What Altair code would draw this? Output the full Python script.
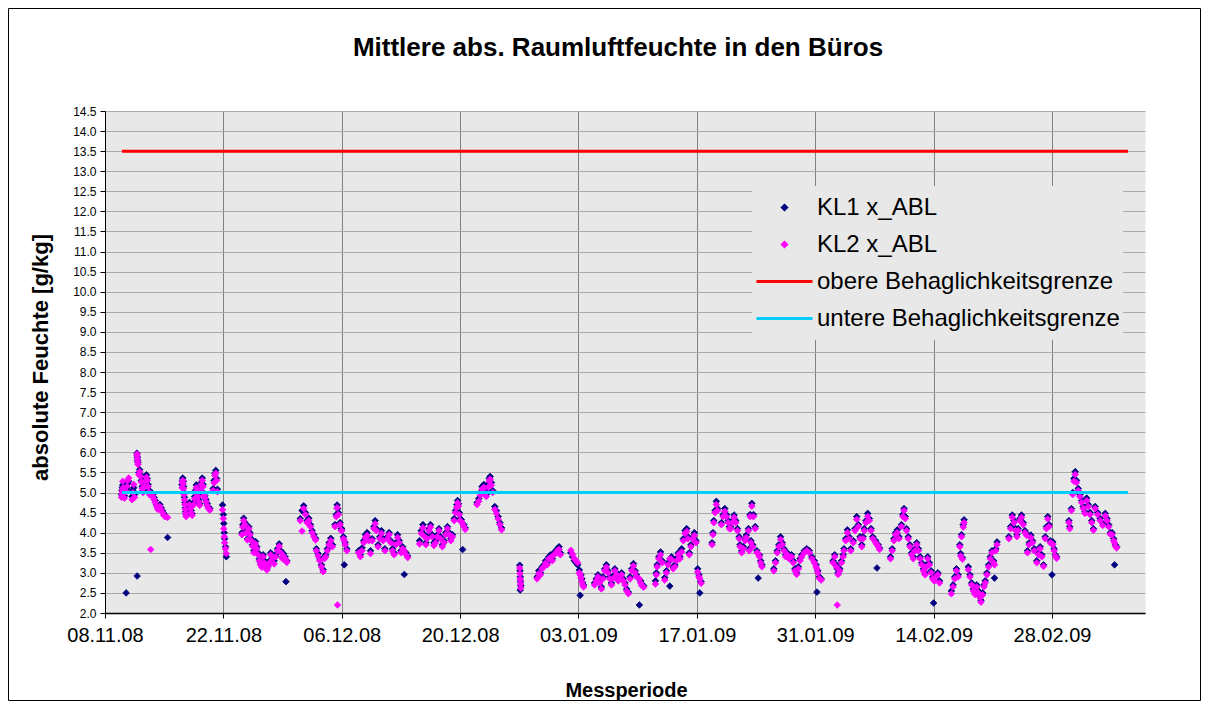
import altair as alt
import pandas as pd

chart_title = "Mittlere abs. Raumluftfeuchte in den Büros"
y_axis_title = "absolute Feuchte [g/kg]"
x_axis_title = "Messperiode"

series_names = ["KL1 x_ABL", "KL2 x_ABL", "obere Behaglichkeitsgrenze", "untere Behaglichkeitsgrenze"]
series_colors = ["#000080", "#FF00FF", "#FF0000", "#00CCFF"]

x_start = "2008-11-08"
x_end = "2009-03-11"
x_tick_dates = ["2008-11-08", "2008-11-22", "2008-12-06", "2008-12-20", "2009-01-03",
                "2009-01-17", "2009-01-31", "2009-02-14", "2009-02-28"]
y_ticks = [2.0, 2.5, 3.0, 3.5, 4.0, 4.5, 5.0, 5.5, 6.0, 6.5, 7.0, 7.5, 8.0, 8.5,
           9.0, 9.5, 10.0, 10.5, 11.0, 11.5, 12.0, 12.5, 13.0, 13.5, 14.0, 14.5]

limit_names = ["obere Behaglichkeitsgrenze", "untere Behaglichkeitsgrenze"]
limit_values = [13.5, 5.0]
limit_from = "2008-11-10"
limit_to = "2009-03-09"

# measurement times (days after 08.11.08), one inner list per measured stretch
t_day = [
    [1.95, 2.0, 2.05, 2.1, 2.15, 2.2, 2.3, 2.5],
    [2.6, 2.7, 2.8],
    [3.2, 3.3, 3.4, 3.5],
    [3.78, 3.8, 3.83, 3.86, 3.9],
    [4.0, 4.1, 4.2, 4.3, 4.4, 4.5],
    [4.7, 4.8, 4.9, 5.0, 5.1, 5.2, 5.3, 5.4],
    [5.5, 5.65, 5.8, 5.95, 6.1, 6.25],
    [6.5, 6.65, 6.8, 6.95, 7.1, 7.4],
    [9.1, 9.15, 9.2, 9.25, 9.3, 9.35, 9.4, 9.45, 9.5, 9.55, 9.6],
    [10.0, 10.1, 10.2, 10.3],
    [10.5, 10.6, 10.7, 10.8, 10.9, 11.0, 11.1, 11.2],
    [11.3, 11.4, 11.5, 11.6, 11.7],
    [11.8, 11.95, 12.1, 12.25, 12.4],
    [12.8, 12.9, 13.0, 13.1, 13.2, 13.3],
    [13.9, 14.0, 14.05, 14.1, 14.15, 14.25, 14.35],
    [16.2, 16.3, 16.4, 16.55, 16.7, 16.85],
    [17.0, 17.15, 17.3, 17.45, 17.6],
    [17.8, 17.95, 18.1, 18.25, 18.4, 18.55],
    [18.7, 18.85, 19.0, 19.15, 19.3, 19.45],
    [19.6, 19.8, 20.0, 20.2, 20.4, 20.6, 20.8, 21.0],
    [21.1, 21.3, 21.4, 21.5],
    [23.1, 23.3, 23.5, 23.7, 23.9],
    [24.1, 24.3, 24.5, 24.7, 24.9],
    [25.0, 25.2, 25.4, 25.6, 25.8, 25.95],
    [26.1, 26.3, 26.5, 26.7, 26.9],
    [27.2, 27.35, 27.45, 27.5, 27.6, 27.8, 27.95],
    [28.0, 28.2, 28.3, 28.4, 28.6],
    [30.0, 30.2, 30.4, 30.6, 30.8, 31.0, 31.2],
    [31.4, 31.6, 31.8, 31.95, 32.1],
    [32.3, 32.5, 32.7, 32.9, 33.1],
    [33.4, 33.6, 33.8, 34.0, 34.2, 34.4, 34.6, 34.8, 35.0],
    [35.2, 35.4, 35.6, 35.8],
    [37.2, 37.4, 37.6, 37.8, 37.95],
    [38.1, 38.3, 38.5, 38.7, 38.9],
    [39.1, 39.3, 39.5, 39.7, 39.9],
    [40.1, 40.3, 40.5, 40.7, 40.9, 41.1],
    [41.3, 41.45, 41.6, 41.7, 41.8, 41.9],
    [42.0, 42.15, 42.3, 42.45, 42.6],
    [44.0, 44.2, 44.4, 44.6, 44.8],
    [44.95, 45.1, 45.3, 45.45, 45.55, 45.7, 45.85],
    [46.1, 46.3, 46.5, 46.7, 46.9],
    [49.05, 49.08, 49.1, 49.12, 49.15, 49.18],
    [51.1, 51.3, 51.5, 51.7, 51.9, 52.1, 52.3, 52.5, 52.7, 52.9, 53.1, 53.3, 53.5, 53.7, 53.85],
    [55.1, 55.3, 55.5, 55.7, 55.9],
    [56.1, 56.2, 56.3, 56.4, 56.5, 56.6],
    [57.9, 58.1, 58.3, 58.5, 58.7],
    [58.9, 59.1, 59.3, 59.5, 59.7],
    [59.9, 60.1, 60.3, 60.5, 60.7],
    [60.9, 61.1, 61.3, 61.5, 61.7, 61.9],
    [62.1, 62.3, 62.5, 62.7, 62.85],
    [63.2, 63.35, 63.5, 63.7],
    [65.1, 65.2, 65.3, 65.5, 65.7, 65.9],
    [66.2, 66.4, 66.6, 66.8, 67.0, 67.2],
    [67.4, 67.6, 67.8, 68.0],
    [68.2, 68.4, 68.6, 68.8, 68.95],
    [69.1, 69.3, 69.5, 69.7, 69.9],
    [70.1, 70.25, 70.35, 70.5],
    [71.8, 71.9, 72.0, 72.15, 72.3, 72.45],
    [72.9, 73.1, 73.3, 73.5, 73.7, 73.85],
    [74.0, 74.2, 74.4, 74.6, 74.8, 75.0],
    [75.1, 75.3, 75.5, 75.7, 75.85],
    [76.1, 76.2, 76.3, 76.4, 76.5, 76.6, 76.7, 76.9],
    [77.1, 77.25, 77.4, 77.55, 77.7],
    [79.1, 79.3, 79.5, 79.7, 79.9, 80.1, 80.3, 80.5, 80.7, 80.9],
    [81.2, 81.4, 81.6, 81.8, 82.0, 82.2],
    [82.4, 82.7, 83.0, 83.3, 83.6, 83.9],
    [84.1, 84.2, 84.3, 84.5, 84.7],
    [86.1, 86.3, 86.5, 86.6, 86.7, 86.9, 87.1, 87.3],
    [87.4, 87.6, 87.8, 88.0, 88.2],
    [88.5, 88.7, 88.9, 89.1, 89.3, 89.5, 89.65],
    [89.8, 90.0, 90.2, 90.4, 90.6, 90.8],
    [91.15, 91.3, 91.45, 91.6],
    [92.9, 93.1, 93.3, 93.5, 93.7, 93.9],
    [94.2, 94.35, 94.5, 94.65, 94.8],
    [95.0, 95.2, 95.4, 95.6, 95.8, 96.0],
    [96.2, 96.4, 96.6, 96.8, 97.0, 97.15],
    [97.3, 97.5, 97.7, 97.9, 98.0, 98.1, 98.3, 98.5, 98.7],
    [100.1, 100.3, 100.5, 100.7, 100.9],
    [101.1, 101.2, 101.3, 101.4, 101.5, 101.6],
    [102.1, 102.3, 102.5, 102.7, 102.9],
    [103.1, 103.3, 103.5, 103.6, 103.8, 103.95],
    [104.1, 104.3, 104.5, 104.7, 104.9, 105.1, 105.2, 105.35, 105.5],
    [106.9, 107.1, 107.3, 107.5, 107.7, 107.85],
    [108.0, 108.2, 108.4, 108.6, 108.8, 109.0],
    [109.1, 109.3, 109.5, 109.7, 109.9],
    [110.2, 110.4, 110.6, 110.8, 111.0],
    [111.2, 111.35, 111.5, 111.65, 111.8],
    [112.0, 112.1, 112.25, 112.4, 112.55],
    [114.0, 114.1, 114.3, 114.45, 114.6, 114.75, 114.9],
    [115.1, 115.3, 115.5, 115.7, 115.9],
    [116.1, 116.3, 116.5, 116.7, 116.9],
    [117.1, 117.4, 117.7, 118.0],
    [118.3, 118.5, 118.7, 118.9],
    [119.1, 119.3, 119.4, 119.5, 119.65],
]

kl1 = [
    [4.95, 5.05, 5.12, 5.19, 5.15, 5.05, 4.92, 2.50],
    [5.10, 5.22, 5.28],
    [4.90, 5.05, 5.12, 4.95],
    [5.98, 2.92, 5.88, 5.80, 5.75],
    [5.50, 5.57, 5.45, 5.30, 5.15, 5.05],
    [5.20, 5.35, 5.44, 5.35, 5.20, 5.06, 4.98, 4.95],
    [5.00, 4.95, 4.88, 4.80, 4.70, 4.62],
    [4.70, 4.62, 4.55, 4.48, 4.43, 3.88],
    [5.20, 5.30, 5.36, 5.28, 5.15, 5.00, 4.88, 4.75, 4.62, 4.52, 4.45],
    [4.75, 4.65, 4.55, 4.48],
    [4.75, 4.90, 5.05, 5.19, 5.10, 4.95, 4.82, 4.72],
    [5.10, 5.25, 5.36, 5.20, 4.98],
    [4.92, 4.82, 4.72, 4.64, 4.60],
    [5.10, 5.30, 5.48, 5.55, 5.35, 5.08],
    [4.69, 4.45, 4.23, 4.00, 3.85, 3.65, 3.40],
    [4.00, 4.20, 4.36, 4.25, 4.05, 3.85],
    [4.15, 4.00, 3.85, 3.70, 3.55],
    [3.78, 3.65, 3.50, 3.35, 3.25, 3.18],
    [3.45, 3.30, 3.20, 3.10, 3.20, 3.30],
    [3.50, 3.40, 3.30, 3.45, 3.60, 3.72, 3.55, 3.40],
    [3.48, 3.40, 2.78, 3.30],
    [4.35, 4.55, 4.67, 4.50, 4.30],
    [4.36, 4.20, 4.05, 3.95, 3.86],
    [3.60, 3.48, 3.35, 3.20, 3.08, 3.40],
    [3.45, 3.60, 3.75, 3.86, 3.70],
    [4.20, 4.45, 4.69, 4.60, 4.50, 4.25, 4.10],
    [4.10, 3.90, 3.20, 3.75, 3.60],
    [3.55, 3.45, 3.62, 3.80, 3.95, 4.00, 3.85],
    [3.55, 3.85, 4.15, 4.30, 4.10],
    [3.70, 3.90, 4.05, 3.85, 3.60],
    [3.90, 4.00, 3.80, 3.60, 3.50, 3.75, 3.95, 3.80, 3.55],
    [3.65, 2.96, 3.50, 3.42],
    [3.80, 4.05, 4.20, 3.95, 3.75],
    [3.90, 4.10, 4.20, 3.95, 3.75],
    [3.80, 3.95, 4.10, 3.90, 3.70],
    [3.80, 4.00, 4.15, 4.00, 3.85, 3.95],
    [4.35, 4.55, 4.70, 4.80, 4.72, 4.50],
    [4.35, 4.32, 3.58, 4.20, 4.12],
    [4.75, 4.85, 5.00, 5.15, 5.20],
    [5.05, 4.95, 5.20, 5.35, 5.40, 5.25, 5.05],
    [4.65, 4.55, 4.40, 4.25, 4.12],
    [3.19, 3.05, 2.57, 2.90, 2.78, 2.68],
    [2.90, 3.05, 3.00, 3.15, 3.20, 3.30, 3.25, 3.40, 3.45, 3.35, 3.50, 3.55, 3.60, 3.65, 3.50],
    [3.50, 3.40, 3.30, 3.25, 3.20],
    [3.07, 2.44, 2.95, 2.85, 2.75, 2.70],
    [2.75, 2.85, 2.95, 2.80, 2.65],
    [2.90, 3.10, 3.20, 3.05, 2.90],
    [2.75, 2.92, 3.10, 3.00, 2.85],
    [2.90, 3.00, 2.85, 2.75, 2.60, 2.52],
    [2.90, 3.10, 3.23, 3.05, 2.95],
    [2.20, 2.80, 2.72, 2.68],
    [2.80, 3.00, 3.20, 3.40, 3.52, 3.30],
    [2.88, 3.05, 3.25, 2.67, 3.40, 3.15],
    [3.20, 3.35, 3.50, 3.40],
    [3.60, 3.85, 4.05, 4.10, 3.90],
    [3.50, 3.70, 3.90, 4.00, 3.80],
    [3.10, 2.95, 2.50, 2.78],
    [3.75, 4.00, 4.30, 4.55, 4.78, 4.60],
    [4.25, 4.45, 4.60, 4.45, 4.30, 4.15],
    [4.15, 4.30, 4.44, 4.30, 4.10, 3.90],
    [3.70, 3.55, 3.65, 3.85, 3.94],
    [4.10, 3.60, 4.45, 3.80, 4.73, 3.70, 4.45, 4.15],
    [3.55, 2.87, 3.45, 3.30, 3.20],
    [3.10, 3.30, 3.55, 3.70, 3.90, 3.75, 3.60, 3.45, 3.50, 3.40],
    [3.45, 3.30, 3.10, 3.00, 3.15, 3.35],
    [3.45, 3.55, 3.60, 3.55, 3.40, 3.30],
    [3.20, 2.52, 3.05, 2.90, 2.85],
    [3.30, 3.45, 3.20, 3.10, 3.00, 3.10, 3.30, 3.45],
    [3.60, 3.85, 4.07, 3.90, 3.60],
    [3.80, 4.10, 4.40, 4.20, 3.90, 3.70, 3.90],
    [4.10, 4.30, 4.48, 4.35, 4.10, 3.90],
    [3.80, 3.12, 3.70, 3.62],
    [3.40, 3.60, 3.85, 4.00, 4.07, 3.90],
    [4.20, 4.45, 4.60, 4.40, 4.10],
    [3.90, 3.70, 3.50, 3.40, 3.60, 3.75],
    [3.60, 3.40, 3.25, 3.10, 3.00, 3.20],
    [3.40, 3.25, 3.05, 2.90, 2.25, 2.85, 2.95, 3.00, 2.80],
    [2.55, 2.70, 2.90, 3.10, 2.95],
    [3.70, 3.48, 3.95, 3.38, 4.20, 4.32],
    [3.15, 2.95, 2.75, 2.60, 2.50],
    [2.70, 2.55, 2.42, 2.32, 2.50, 2.70],
    [2.80, 3.00, 3.20, 3.40, 3.55, 3.30, 2.87, 3.60, 3.77],
    [3.90, 4.15, 4.44, 4.30, 4.10, 3.95],
    [4.10, 4.35, 4.44, 4.25, 4.05, 3.98],
    [3.55, 3.75, 3.94, 3.80, 3.60],
    [3.30, 3.50, 3.65, 3.45, 3.20],
    [3.90, 4.15, 4.40, 4.20, 3.80],
    [2.95, 3.77, 3.60, 3.45, 3.40],
    [4.30, 4.15, 4.60, 5.00, 5.35, 5.52, 5.30],
    [5.10, 4.95, 4.80, 4.65, 4.52],
    [4.86, 4.70, 4.50, 4.30, 4.10],
    [4.65, 4.50, 4.35, 4.23],
    [4.48, 4.35, 4.20, 4.00],
    [4.00, 3.85, 3.20, 3.70, 3.65],
]

kl2 = [
    [4.88, 4.97, 5.05, 5.28, 5.12, 4.98, 4.86, 5.02],
    [5.15, 5.30, 5.36],
    [4.82, 5.00, 5.20, 4.88],
    [5.93, 5.96, 5.85, 5.76, 5.70],
    [5.45, 5.52, 5.40, 5.26, 5.10, 5.00],
    [5.15, 5.30, 5.38, 5.30, 5.15, 5.02, 4.94, 3.58],
    [4.95, 4.90, 4.83, 4.75, 4.66, 4.58],
    [4.65, 4.57, 4.50, 4.43, 4.40, 4.38],
    [5.12, 5.24, 5.30, 5.22, 5.10, 4.95, 4.82, 4.70, 4.58, 4.48, 4.40],
    [4.70, 4.60, 4.50, 4.43],
    [4.70, 4.85, 5.00, 5.12, 5.05, 4.90, 4.77, 4.68],
    [5.05, 5.20, 5.30, 5.15, 4.93],
    [4.87, 4.77, 4.67, 4.60, 4.56],
    [5.05, 5.24, 5.42, 5.48, 5.30, 5.02],
    [4.57, 4.35, 4.10, 3.90, 3.75, 3.60, 3.48],
    [3.95, 4.14, 4.30, 4.20, 4.00, 3.82],
    [4.10, 3.95, 3.80, 3.66, 3.50],
    [3.72, 3.60, 3.45, 3.30, 3.20, 3.14],
    [3.40, 3.25, 3.15, 3.07, 3.15, 3.25],
    [3.45, 3.35, 3.22, 3.40, 3.55, 3.66, 3.50, 3.35],
    [3.42, 3.35, 3.32, 3.26],
    [4.30, 4.04, 4.60, 4.45, 4.25],
    [4.30, 4.15, 4.00, 3.90, 3.82],
    [3.55, 3.42, 3.30, 3.15, 3.03, 3.35],
    [3.40, 3.55, 3.70, 3.80, 3.65],
    [4.15, 4.40, 4.62, 2.20, 4.45, 4.20, 4.05],
    [4.05, 3.85, 3.80, 3.70, 3.55],
    [3.50, 3.40, 3.55, 3.75, 3.88, 3.93, 3.80],
    [3.48, 3.80, 4.10, 4.22, 4.05],
    [3.65, 3.85, 3.98, 3.80, 3.55],
    [3.85, 3.95, 3.75, 3.55, 3.45, 3.70, 3.88, 3.75, 3.50],
    [3.60, 3.55, 3.45, 3.38],
    [3.72, 3.98, 4.12, 3.90, 3.70],
    [3.85, 4.05, 4.14, 3.90, 3.68],
    [3.75, 3.90, 4.05, 3.85, 3.65],
    [3.75, 3.95, 4.10, 3.95, 3.80, 3.90],
    [4.30, 4.50, 4.63, 4.74, 4.66, 4.45],
    [4.30, 4.27, 4.22, 4.15, 4.08],
    [4.70, 4.78, 4.93, 5.08, 5.13],
    [4.98, 4.90, 5.13, 5.28, 5.33, 5.18, 5.00],
    [4.58, 4.48, 4.34, 4.20, 4.07],
    [3.12, 2.98, 2.85, 2.82, 2.72, 2.62],
    [2.85, 2.98, 2.95, 3.10, 3.15, 3.24, 3.20, 3.35, 3.38, 3.30, 3.45, 3.48, 3.55, 3.58, 3.45],
    [3.56, 3.46, 3.36, 3.30, 3.25],
    [3.00, 2.95, 2.88, 2.78, 2.70, 2.65],
    [2.70, 2.80, 2.90, 2.75, 2.60],
    [2.85, 3.05, 3.14, 3.00, 2.85],
    [2.70, 2.86, 3.05, 2.95, 2.80],
    [2.85, 2.95, 2.80, 2.70, 2.55, 2.48],
    [2.85, 3.05, 3.17, 3.00, 2.90],
    [2.85, 2.75, 2.68, 2.64],
    [2.72, 2.95, 3.15, 3.35, 3.45, 3.25],
    [2.82, 3.00, 3.20, 3.35, 3.33, 3.10],
    [3.15, 3.30, 3.45, 3.35],
    [3.52, 3.80, 3.98, 4.03, 3.85],
    [3.45, 3.65, 3.85, 3.93, 3.75],
    [3.02, 2.90, 2.85, 2.74],
    [3.70, 3.95, 4.25, 4.50, 4.70, 4.55],
    [4.20, 4.40, 4.53, 4.40, 4.25, 4.10],
    [4.10, 4.25, 4.38, 4.25, 4.05, 3.85],
    [3.65, 3.50, 3.60, 3.80, 3.88],
    [4.05, 3.55, 4.40, 3.75, 4.66, 3.65, 4.40, 4.10],
    [3.50, 3.48, 3.40, 3.25, 3.15],
    [3.05, 3.25, 3.50, 3.65, 3.83, 3.70, 3.55, 3.40, 3.45, 3.35],
    [3.40, 3.25, 3.05, 2.96, 3.10, 3.30],
    [3.40, 3.50, 3.55, 3.50, 3.35, 3.25],
    [3.15, 3.10, 3.00, 2.86, 2.82],
    [3.25, 3.40, 3.15, 2.20, 2.96, 3.05, 3.25, 3.40],
    [3.55, 3.80, 4.00, 3.85, 3.55],
    [3.75, 4.05, 4.33, 4.15, 3.85, 3.65, 3.85],
    [4.05, 4.25, 4.40, 4.30, 4.05, 3.85],
    [3.75, 3.70, 3.65, 3.58],
    [3.35, 3.55, 3.80, 3.95, 4.00, 3.85],
    [4.15, 4.40, 4.55, 4.35, 4.05],
    [3.85, 3.65, 3.45, 3.35, 3.55, 3.70],
    [3.55, 3.35, 3.20, 3.05, 2.95, 3.15],
    [3.35, 3.20, 3.00, 2.85, 2.82, 2.80, 2.90, 2.95, 2.75],
    [2.48, 2.65, 2.85, 3.05, 2.90],
    [3.65, 3.42, 3.90, 3.34, 4.14, 4.25],
    [3.08, 2.90, 2.70, 2.55, 2.46],
    [2.65, 2.50, 2.38, 2.27, 2.45, 2.65],
    [2.75, 2.95, 3.15, 3.35, 3.50, 3.25, 3.20, 3.55, 3.70],
    [3.85, 4.10, 4.38, 4.25, 4.05, 3.90],
    [4.05, 4.30, 4.38, 4.20, 4.00, 3.93],
    [3.50, 3.70, 3.88, 3.75, 3.55],
    [3.25, 3.45, 3.60, 3.40, 3.16],
    [3.85, 4.10, 4.34, 4.15, 3.75],
    [3.72, 3.70, 3.55, 3.42, 3.36],
    [4.25, 4.10, 4.55, 4.95, 5.28, 5.45, 5.25],
    [5.05, 4.90, 4.75, 4.60, 4.48],
    [4.80, 4.65, 4.45, 4.25, 4.06],
    [4.60, 4.45, 4.30, 4.18],
    [4.42, 4.30, 4.15, 3.96],
    [3.95, 3.80, 3.75, 3.66, 3.62],
]

# ---------------------------------------------------------------- tables
origin = pd.Timestamp(x_start)
rows1, rows2 = [], []
for days, v1, v2 in zip(t_day, kl1, kl2, strict=True):
    for d, a, b in zip(days, v1, v2, strict=True):
        stamp = (origin + pd.Timedelta(days=d)).isoformat()
        rows1.append({"date": stamp, "series": series_names[0], "value": a})
        rows2.append({"date": stamp, "series": series_names[1], "value": b})
df_points = pd.DataFrame(rows1 + rows2)

df_limits = pd.DataFrame({
    "series": limit_names,
    "value": limit_values,
    "start": [pd.Timestamp(limit_from).isoformat()] * len(limit_names),
    "end": [pd.Timestamp(limit_to).isoformat()] * len(limit_names),
})


def dt(s):
    y, m, d = (int(p) for p in s.split("-"))
    return alt.DateTime(year=y, month=m, date=d)


FONT = "Liberation Sans"
diamond_path = "M0,-0.07L0.07,0L0,0.07L-0.07,0Z"
line_path = "M-1,0H1"
shape_range = [diamond_path, diamond_path, line_path, line_path]

fill_scale = alt.Scale(domain=series_names, range=series_colors)
stroke_scale = alt.Scale(domain=series_names, range=series_colors)
shape_scale = alt.Scale(domain=series_names, range=shape_range)

legend = alt.Legend(
    title=None, orient="none", legendX=647, legendY=75,
    symbolSize=3136, symbolStrokeWidth=3, symbolOpacity=1,
    labelFont=FONT, labelFontSize=24, labelColor="black", labelOffset=3,
    labelLimit=400, clipHeight=37, rowPadding=0, padding=3,
    fillColor="#E8E8E8",
)

x_axis = alt.Axis(
    values=[dt(s) for s in x_tick_dates], format="%d.%m.%y",
    title=x_axis_title, titleFont=FONT, titleFontSize=20, titleFontWeight="bold",
    titleColor="black", titleX=521, titleY=77, titleBaseline="middle", titleAlign="center",
    labelFont=FONT, labelFontSize=20, labelColor="black", labelPadding=7,
    labelFlush=False, labelOverlap=False,
    tickSize=5, tickColor="black", domainColor="black", domainWidth=1.5,
    grid=True, gridColor="#808080", gridWidth=1,
)
y_axis = alt.Axis(
    values=y_ticks, format=".1f",
    title=y_axis_title, titleFont=FONT, titleFontSize=22, titleFontWeight="bold",
    titleColor="black", titleX=-65, titleY=246, titleAngle=270,
    titleBaseline="middle", titleAlign="center",
    labelFont=FONT, labelFontSize=12, labelColor="black", labelPadding=4,
    labelFlush=False, labelOverlap=False,
    tickSize=5, tickColor="black", domainColor="black", domainWidth=1,
    grid=True, gridColor="#ABABAB", gridWidth=1,
)
x_scale = alt.Scale(domain=[dt(x_start), dt(x_end)], nice=False)
y_scale = alt.Scale(domain=[2, 14.5], nice=False, zero=False)

points = alt.Chart(df_points).mark_point(
    filled=True, opacity=1, size=9000, strokeWidth=0.8
).encode(
    x=alt.X("date:T", scale=x_scale, axis=x_axis),
    y=alt.Y("value:Q", scale=y_scale, axis=y_axis),
    fill=alt.Fill("series:N", scale=fill_scale, legend=legend),
    stroke=alt.Stroke("series:N", scale=stroke_scale, legend=legend),
    shape=alt.Shape("series:N", scale=shape_scale, legend=legend),
)

rules = alt.Chart(df_limits).mark_rule(strokeWidth=3).encode(
    x=alt.X("start:T", scale=x_scale, axis=x_axis),
    x2="end:T",
    y=alt.Y("value:Q", scale=y_scale, axis=y_axis),
    stroke=alt.Stroke("series:N", scale=stroke_scale, legend=legend),
)

frame = alt.Chart().mark_rect(stroke="black", strokeWidth=1, fillOpacity=0).encode(
    x=alt.value(-96.5), x2=alt.value(1095.5), y=alt.value(-102.5), y2=alt.value(589.5)
)

chart = alt.layer(frame, points, rules).properties(
    width=1040, height=502,
    title=alt.Title(chart_title, font=FONT, fontSize=26, fontWeight="bold", color="black",
                    anchor="middle", baseline="middle", offset=0, dx=-7, dy=66),
    padding={"left": 97, "top": 103, "right": 56, "bottom": 88},
    autosize=alt.AutoSizeParams(type="none"),
    background="white",
).configure_view(fill="#E8E8E8", stroke="transparent")

chart.save("out.html", embed_options={"renderer": "svg", "actions": False})
